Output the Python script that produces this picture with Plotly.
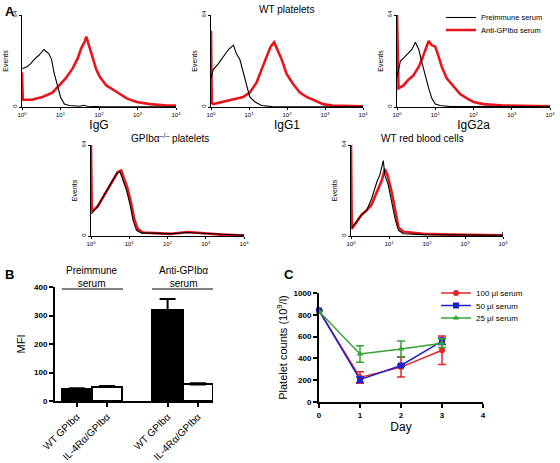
import numpy as np
import plotly.graph_objects as go

# ---------------- DATA ----------------
# Panel A histograms: positions in log10(fluorescence) and event counts
igg_pre_log = [0, 0.04, 0.13, 0.22, 0.35, 0.44, 0.57, 0.7, 0.77, 0.83, 0.92, 1.0, 1.1, 1.23, 1.5, 1.6, 1.7, 2.0, 4.0]
igg_pre_cnt = [27, 27, 28, 30, 34, 36, 40, 37, 33, 24, 15, 7, 2, 1, 0.5, 1.2, 0.5, 0.3, 0.2]
igg_anti_log = [0, 0.02, 0.26, 0.53, 0.79, 0.96, 1.14, 1.32, 1.45, 1.54, 1.62, 1.67, 1.74, 1.84, 1.93, 2.02, 2.19, 2.37, 2.54, 2.72, 2.98, 3.33, 3.77, 4.0]
igg_anti_cnt = [24, 5, 5, 7, 10, 15, 20, 27, 34, 41, 45, 49, 43, 35, 26, 21, 15, 12, 9, 6, 3.5, 2, 1, 1]

igg1_pre_log = [0, 0.06, 0.19, 0.32, 0.46, 0.59, 0.67, 0.76, 0.85, 0.94, 1.02, 1.16, 1.33, 1.6, 4.0]
igg1_pre_cnt = [20, 26, 30, 35, 40, 43, 37, 33, 24, 14, 7, 3.5, 1, 0.3, 0.2]
igg1_anti_log = [0, 0.02, 0.06, 0.5, 0.85, 1.02, 1.2, 1.33, 1.46, 1.57, 1.66, 1.75, 1.86, 1.99, 2.16, 2.34, 2.51, 2.69, 2.95, 3.2, 4.0]
igg1_anti_cnt = [53, 3, 2, 5, 7, 10, 17, 26, 35, 42, 45, 40, 33, 23, 16, 10, 7, 5, 2, 1, 0.5]

igg2a_pre_log = [0, 0.09, 0.17, 0.3, 0.39, 0.48, 0.57, 0.65, 0.74, 0.83, 0.91, 1.0, 1.13, 1.4, 4.0]
igg2a_pre_cnt = [21, 32, 34, 38, 40, 45, 40, 31, 21, 13, 6, 2, 1, 0.3, 0.2]
igg2a_anti_log = [0, 0.04, 0.17, 0.3, 0.43, 0.57, 0.65, 0.74, 0.83, 0.91, 1.0, 1.09, 1.17, 1.3, 1.48, 1.65, 1.83, 2.0, 2.26, 2.78, 4.0]
igg2a_anti_cnt = [64, 13, 15, 19, 22, 28, 33, 40, 46, 43, 42, 35, 28, 20, 14, 9, 6, 3.5, 2, 1, 0.5]

ko_pre_log = [0, 0.02, 0.15, 0.28, 0.41, 0.54, 0.67, 0.76, 0.84, 0.93, 1.02, 1.1, 1.19, 1.32, 1.63, 2.06, 2.5, 2.84, 3.37, 3.9, 4.0]
ko_pre_cnt = [16, 16, 20, 26, 32, 39, 44, 45, 39, 32, 22, 11, 4, 2, 2, 1.5, 2.5, 2, 1, 0.5, 0.5]
ko_anti_log = [0, 0.02, 0.18, 0.31, 0.44, 0.57, 0.7, 0.79, 0.87, 0.96, 1.05, 1.13, 1.22, 1.35, 1.66, 2.09, 2.53, 2.87, 3.4, 3.9, 4.0]
ko_anti_cnt = [64, 17, 21, 27, 33, 40, 45, 46, 40, 33, 23, 12, 5, 2.5, 2, 1.5, 2.8, 2, 1, 0.5, 0.5]

rbc_pre_log = [0.02, 0.15, 0.28, 0.41, 0.54, 0.68, 0.76, 0.85, 0.89, 0.98, 1.07, 1.16, 1.25, 1.38, 1.9, 3.0, 3.99, 4.0]
rbc_pre_cnt = [6, 10, 15, 18, 26, 38, 43, 53, 43, 36, 24, 12, 4, 1.6, 1, 0.5, 0.5, 3]
rbc_anti_log = [0, 0.02, 0.15, 0.28, 0.41, 0.54, 0.68, 0.81, 0.89, 0.96, 1.07, 1.16, 1.25, 1.38, 1.9, 2.6, 3.5, 4.0]
rbc_anti_cnt = [64, 5, 10, 15, 18, 22, 31, 39, 47, 43, 31, 17, 6, 3, 1.5, 1, 0.5, 0.5]

# Panel B
mfi_labels = ["WT GPIbα", "IL-4Rα/GPIbα", "WT GPIbα", "IL-4Rα/GPIbα"]
mfi_pos = [0, 1, 3, 4]
mfi_values = [43, 50, 318, 58]
mfi_err = [2, 3, 40, 4]
mfi_fill = ["black", "white", "black", "white"]

# Panel C
days = [0, 1, 2, 3]
s100 = [840, 225, 320, 475]
s100_err = [0, 52, 90, 130]
s50 = [840, 205, 335, 558]
s50_err = [0, 25, 10, 30]
s25 = [830, 440, 487, 540]
s25_err = [0, 75, 73, 40]

# ---------------- FIGURE ----------------
W, H = 560, 463
FONT = "Arial, Liberation Sans, sans-serif"
RED = "#e8161c"


def xd(a, b):
    return [a / W, b / W]


def yd(top, bottom):
    return [1 - bottom / H, 1 - top / H]


fig = go.Figure()

hist_panels = [
    (1, igg_pre_log, igg_pre_cnt, igg_anti_log, igg_anti_cnt, xd(22, 176), yd(15, 107), "IgG"),
    (2, igg1_pre_log, igg1_pre_cnt, igg1_anti_log, igg1_anti_cnt, xd(211, 363), yd(15, 107), "IgG1"),
    (3, igg2a_pre_log, igg2a_pre_cnt, igg2a_anti_log, igg2a_anti_cnt, xd(397, 550), yd(15, 107), "IgG2a"),
    (4, ko_pre_log, ko_pre_cnt, ko_anti_log, ko_anti_cnt, xd(91, 244), yd(145, 236), None),
    (5, rbc_pre_log, rbc_pre_cnt, rbc_anti_log, rbc_anti_cnt, xd(351, 503), yd(145, 236), None),
]

layout = {}
for i, pl, pc, al, ac, xdom, ydom, xt in hist_panels:
    xa = "x" if i == 1 else f"x{i}"
    ya = "y" if i == 1 else f"y{i}"
    fig.add_trace(go.Scatter(x=10 ** np.array(al), y=ac, mode="lines", xaxis=xa, yaxis=ya,
                             line=dict(color=RED, width=2.6), name="Anti-GPIbα serum",
                             showlegend=(i == 1), legend="legend2", cliponaxis=False))
    fig.add_trace(go.Scatter(x=10 ** np.array(pl), y=pc, mode="lines", xaxis=xa, yaxis=ya,
                             line=dict(color="black", width=1.1), name="Preimmune serum",
                             showlegend=(i == 1), legend="legend", cliponaxis=False))
    kx = "xaxis" if i == 1 else f"xaxis{i}"
    ky = "yaxis" if i == 1 else f"yaxis{i}"
    layout[kx] = dict(domain=xdom, anchor=ya, type="log", range=[0, 4], automargin=False,
                      tickvals=[1, 10, 100, 1000, 10000],
                      ticktext=["10<sup>0</sup>", "10<sup>1</sup>", "10<sup>2</sup>", "10<sup>3</sup>", "10<sup>4</sup>"],
                      tickfont=dict(size=6, family=FONT, color="black"), ticks="outside", ticklen=2,
                      tickcolor="black", showline=True, linecolor="black", linewidth=1,
                      showgrid=False, zeroline=False,
                      title=dict(text=xt, font=dict(size=12, family=FONT, color="black"), standoff=2) if xt else None)
    layout[ky] = dict(domain=ydom, anchor=xa, range=[0, 64], tickvals=[0, 64], ticktext=["0", "64"],
                      automargin=False,
                      tickangle=-90, tickfont=dict(size=6, family=FONT, color="black"), ticks="outside",
                      ticklen=2, tickcolor="black", showline=True, linecolor="black", linewidth=1,
                      showgrid=False, zeroline=False,
                      title=dict(text="Events", font=dict(size=7, family=FONT, color="black"), standoff=2))

# Panel B bars
fig.add_trace(go.Bar(x=mfi_pos, y=mfi_values, width=1, xaxis="x6", yaxis="y6",
                     marker=dict(color=mfi_fill, line=dict(color="black", width=2)),
                     error_y=dict(type="data", array=mfi_err, arrayminus=[0, 0, 0, 0], symmetric=False,
                                  color="black", thickness=2, width=8),
                     showlegend=False))
layout["xaxis6"] = dict(domain=xd(55, 213), anchor="y6", range=[-0.72, 4.5], tickvals=mfi_pos,
                        ticktext=mfi_labels, tickangle=-45, automargin=False,
                        tickfont=dict(size=10, family=FONT, color="black"), ticks="outside", ticklen=4,
                        tickwidth=1.5, tickcolor="black", showline=True, linecolor="black", linewidth=2,
                        showgrid=False, zeroline=False)
layout["yaxis6"] = dict(domain=yd(287, 401), anchor="x6", range=[0, 400], dtick=100, automargin=False,
                        tickfont=dict(size=8, family=FONT, color="black", weight="bold"), ticks="outside",
                        ticklen=4, tickwidth=1.5, tickcolor="black", showline=True, linecolor="black",
                        linewidth=2, showgrid=False, zeroline=False,
                        title=dict(text="MFI", font=dict(size=11, family=FONT, color="black"), standoff=6))

# Panel C lines
for k, (name, vals, err, col, sym) in enumerate([("100 μl serum", s100, s100_err, "#e0262a", "circle"),
                                                 ("50 μl serum", s50, s50_err, "#2020c8", "square"),
                                                 ("25 μl serum", s25, s25_err, "#36a336", "triangle-up")]):
    fig.add_trace(go.Scatter(x=days, y=vals, mode="lines+markers", xaxis="x7", yaxis="y7",
                             line=dict(color=col, width=1.5), marker=dict(symbol=sym, size=6, color=col),
                             error_y=dict(type="data", array=err, color=col, thickness=1.5, width=4),
                             name=name, legend=f"legend{k + 3}", cliponaxis=False))
layout["xaxis7"] = dict(domain=xd(319, 483), anchor="y7", range=[0, 4], dtick=1, automargin=False,
                        tickfont=dict(size=8, family=FONT, color="black", weight="bold"), ticks="outside",
                        ticklen=4, tickwidth=1.5, tickcolor="black", showline=True, linecolor="black",
                        linewidth=2, showgrid=False, zeroline=False,
                        title=dict(text="Day", font=dict(size=12, family=FONT, color="black"), standoff=4))
layout["yaxis7"] = dict(domain=yd(293, 402), anchor="x7", range=[0, 1000], dtick=200, automargin=False,
                        tickfont=dict(size=8, family=FONT, color="black", weight="bold"), ticks="outside",
                        ticklen=4, tickwidth=1.5, tickcolor="black", showline=True, linecolor="black",
                        linewidth=2, showgrid=False, zeroline=False,
                        title=dict(text="Platelet counts (10<sup>9</sup>/l)",
                                   font=dict(size=11, family=FONT, color="black"), standoff=4))

annotations = [
    dict(text="<b>A</b>", x=3 / W, y=1 - 2 / H, xanchor="left", yanchor="top", font=dict(size=13)),
    dict(text="<b>B</b>", x=3 / W, y=1 - 265 / H, xanchor="left", yanchor="top", font=dict(size=13)),
    dict(text="<b>C</b>", x=282 / W, y=1 - 265 / H, xanchor="left", yanchor="top", font=dict(size=13)),
    dict(text="WT platelets", x=286 / W, y=1 - 9 / H, xanchor="center", yanchor="middle", font=dict(size=10)),
    dict(text="GPIbα<sup>–/–</sup> platelets", x=170 / W, y=1 - 138 / H, xanchor="center", yanchor="middle",
         font=dict(size=10)),
    dict(text="WT red blood cells", x=422 / W, y=1 - 138 / H, xanchor="center", yanchor="middle",
         font=dict(size=10)),
    dict(text="Preimmune<br>serum", x=92 / W, y=1 - 277 / H, xanchor="center", yanchor="middle",
         font=dict(size=10)),
    dict(text="Anti-GPIbα<br>serum", x=183 / W, y=1 - 277 / H, xanchor="center", yanchor="middle",
         font=dict(size=10)),
]
for a in annotations:
    a.update(xref="paper", yref="paper", showarrow=False)
    a["font"].update(family=FONT, color="black")

shapes = [
    dict(type="line", xref="paper", yref="paper", x0=62 / W, x1=123 / W, y0=1 - 289 / H, y1=1 - 289 / H,
         line=dict(color="black", width=1)),
    dict(type="line", xref="paper", yref="paper", x0=152 / W, x1=213 / W, y0=1 - 289 / H, y1=1 - 289 / H,
         line=dict(color="black", width=1)),
]


def leg(xpx, ypx, size=8):
    return dict(x=xpx / W, y=1 - ypx / H, xanchor="left", yanchor="middle", bgcolor="rgba(0,0,0,0)",
                font=dict(size=size, family=FONT, color="black"), itemwidth=30, borderwidth=0)


fig.update_layout(
    width=W, height=H, margin=dict(l=0, r=0, t=0, b=0),
    paper_bgcolor="white", plot_bgcolor="white",
    font=dict(family=FONT, color="black"),
    annotations=annotations, shapes=shapes, bargap=0,
    legend=leg(441, 17.5, 7.5),
    legend2=leg(441, 30, 7.5),
    legend3=leg(436, 293),
    legend4=leg(436, 305.5),
    legend5=leg(436, 318),
    **layout,
)

fig.write_html("out.html", config={"displayModeBar": False},
               post_script="document.body.style.margin='0';document.body.style.overflow='hidden';")
